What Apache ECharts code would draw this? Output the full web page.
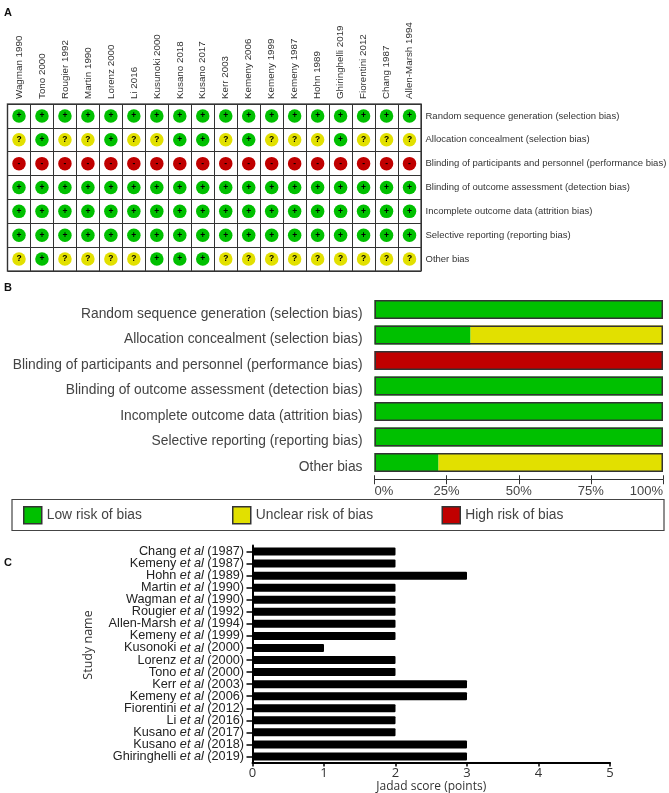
<!DOCTYPE html>
<html><head><meta charset="utf-8">
<style>html,body{margin:0;padding:0;background:#fff}#c{width:669px;height:793px}</style>
<script src="https://cdn.jsdelivr.net/npm/echarts@6/dist/echarts.min.js"></script>
</head><body><div id="c"></div>
<script>
const studiesA = ['Wagman 1990','Tono 2000','Rougier 1992','Martin 1990','Lorenz 2000','Li 2016','Kusunoki 2000','Kusano 2018','Kusano 2017','Kerr 2003','Kemeny 2006','Kemeny 1999','Kemeny 1987','Hohn 1989','Ghiringhelli 2019','Fiorentini 2012','Chang 1987','Allen-Marsh 1994'];
const domains = ['Random sequence generation (selection bias)','Allocation concealment (selection bias)','Blinding of participants and personnel (performance bias)','Blinding of outcome assessment (detection bias)','Incomplete outcome data (attrition bias)','Selective reporting (reporting bias)','Other bias'];
const randomSeq  = '++++++++++++++++++';
const allocation = '?+??+??++?+???+???';
const blindingP  = '------------------';
const blindingO  = '++++++++++++++++++';
const incomplete = '++++++++++++++++++';
const selective  = '++++++++++++++++++';
const otherBias  = '?+????+++?????????';
const judgements = [randomSeq, allocation, blindingP, blindingO, incomplete, selective, otherBias];

const lowPct     = [100, 33.3, 0, 100, 100, 100, 22.2];
const unclearPct = [0, 66.7, 0, 0, 0, 0, 77.8];
const highPct    = [0, 0, 100, 0, 0, 0, 0];
const framePct   = [100, 100, 100, 100, 100, 100, 100];

const authorsC = ['Chang','Kemeny','Hohn','Martin','Wagman','Rougier','Allen-Marsh','Kemeny','Kusonoki','Lorenz','Tono','Kerr','Kemeny','Fiorentini','Li','Kusano','Kusano','Ghiringhelli'];
const yearsC   = [1987,1987,1989,1990,1990,1992,1994,1999,2000,2000,2000,2003,2006,2012,2016,2017,2018,2019];
const jadad    = [2,2,3,2,2,2,2,2,1,2,2,3,3,2,2,2,3,3];

const GREEN='#00c000', YELLOW='#e2e000', RED='#c00000';
const colorOf = {'+':GREEN,'?':YELLOW,'-':RED};
const SANS='"Liberation Sans", Arial, sans-serif';
const OPEN='"Open Sans", sans-serif';
const scatterData=[];
judgements.forEach((row,r)=>[...row].forEach((c,s)=>scatterData.push({value:[s,r],code:c,itemStyle:{color:colorOf[c],opacity:1}})));
const catsC = authorsC.map((a,i)=>a+'|'+yearsC[i]);

const chart = echarts.init(document.getElementById('c'),null,{renderer:'canvas'});
const letter=(t,x,y)=>({type:'text',x,y,style:{text:t,font:'bold 11px '+SANS,fill:'#111'}});
const BAR_B=19;
chart.setOption({
  backgroundColor:'#fff',
  animation:false,
  grid:[
    {left:7.5,top:104,width:413.5,height:167,show:true,borderColor:'#555',borderWidth:1.5,backgroundColor:'#fff',outerBoundsMode:'none'},
    {left:374.5,top:296.75,width:288.5,height:178.5,outerBoundsMode:'none'},
    {left:252.5,top:545.5,width:357.5,height:217,outerBoundsMode:'none'}
  ],
  legend:[
    {left:23,data:['Low risk of bias']},
    {left:232,data:['Unclear risk of bias']},
    {left:441.5,data:['High risk of bias']}
  ].map(l=>({left:l.left,top:506,data:l.data,itemWidth:18,itemHeight:17,itemGap:3,icon:'rect',selectedMode:false,
      itemStyle:{borderColor:'#333',borderWidth:1.5},
      textStyle:{fontFamily:SANS,fontSize:13.8,color:'#444'},padding:0})),
  xAxis:[
    {gridIndex:0,type:'category',data:studiesA,position:'top',
      axisLine:{show:false},axisTick:{show:false},
      splitLine:{show:true,lineStyle:{color:'#333',width:1}},
      axisLabel:{rotate:-90,interval:0,fontFamily:SANS,fontSize:9.8,color:'#333',margin:5}},
    {gridIndex:1,type:'value',min:0,max:100,interval:25,position:'bottom',offset:4,splitLine:{show:false},
      axisLine:{show:true,onZero:false,lineStyle:{color:'#333'}},
      axisTick:{show:true,length:5,lineStyle:{color:'#333'}},
      axisLabel:{fontFamily:SANS,fontSize:13,color:'#444',margin:6,formatter:'{value}%',
        alignMinLabel:'left',alignMaxLabel:'right'}},
    {gridIndex:1,type:'value',min:0,max:100,interval:25,position:'bottom',offset:4,splitLine:{show:false},
      axisLine:{show:false,onZero:false},axisLabel:{show:false},
      axisTick:{show:true,inside:true,length:4,lineStyle:{color:'#333'}}},
    {gridIndex:2,type:'value',min:0,max:5,interval:1,splitLine:{show:false},
      name:'Jadad score (points)',nameLocation:'middle',nameGap:15,
      nameTextStyle:{fontFamily:OPEN,fontSize:12,color:'#333'},
      axisLine:{show:true,lineStyle:{color:'#000',width:2}},
      axisTick:{show:true,length:4,lineStyle:{color:'#000',width:1.5}},
      axisLabel:{fontFamily:OPEN,fontSize:13,color:'#333',margin:4}}
  ],
  yAxis:[
    {gridIndex:0,type:'category',data:domains,inverse:true,position:'right',
      axisLine:{show:false},axisTick:{show:false},
      splitLine:{show:true,lineStyle:{color:'#333',width:1}},
      axisLabel:{interval:0,fontFamily:SANS,fontSize:9.5,color:'#333',margin:4.5}},
    {gridIndex:1,type:'category',data:domains,inverse:true,
      axisLine:{show:false},axisTick:{show:false},
      axisLabel:{interval:0,fontFamily:SANS,fontSize:13.8,color:'#444',margin:12,verticalAlign:'top',lineHeight:9}},
    {gridIndex:2,type:'category',data:catsC,inverse:true,
      name:'Study name',nameLocation:'middle',nameGap:158,nameRotate:90,
      nameTextStyle:{fontFamily:OPEN,fontSize:12.5,color:'#333',padding:[0,0,0,18]},
      axisLine:{show:true,lineStyle:{color:'#000',width:2}},
      axisTick:{show:true,length:6,alignWithLabel:true,lineStyle:{color:'#000',width:1.5}},
      axisLabel:{interval:0,margin:8.5,
        formatter:v=>{const p=v.split('|');return `{r|${p[0]} }{i|et al}{r| (${p[1]})}`;},
        rich:{r:{fontFamily:SANS,fontSize:12.7,color:'#222'},i:{fontFamily:SANS,fontSize:12.7,fontStyle:'italic',color:'#222'}}}}
  ],
  series:[
    {type:'scatter',xAxisIndex:0,yAxisIndex:0,symbol:'circle',symbolSize:13.5,data:scatterData,
      label:{show:true,position:'inside',formatter:p=>p.data.code,color:'#000',textBorderWidth:0,textBorderColor:'transparent',fontFamily:SANS,fontSize:8.5,fontWeight:'bold'}},
    ...[['Low risk of bias',lowPct,GREEN],['Unclear risk of bias',unclearPct,YELLOW],['High risk of bias',highPct,RED]].map(([n,d,col])=>({
      type:'bar',name:n,xAxisIndex:1,yAxisIndex:1,stack:'rob',barWidth:BAR_B,barGap:'-100%',data:d,
      itemStyle:{color:col}})),
    {type:'bar',name:'frame',xAxisIndex:1,yAxisIndex:1,stack:'frame',barWidth:BAR_B,barGap:'-100%',data:framePct,
      itemStyle:{color:'rgba(0,0,0,0)',borderColor:'#333',borderWidth:1.5}},
    {type:'bar',xAxisIndex:3,yAxisIndex:2,barWidth:8,data:jadad,itemStyle:{color:'#000',borderRadius:1}}
  ],
  graphic:[
    letter('A',4,7),letter('B',4,282),letter('C',4,557),
    {type:'rect',shape:{x:12,y:499.5,width:652,height:31},style:{fill:'none',stroke:'#444',lineWidth:1.2},silent:true}
  ]
});
</script></body></html>
